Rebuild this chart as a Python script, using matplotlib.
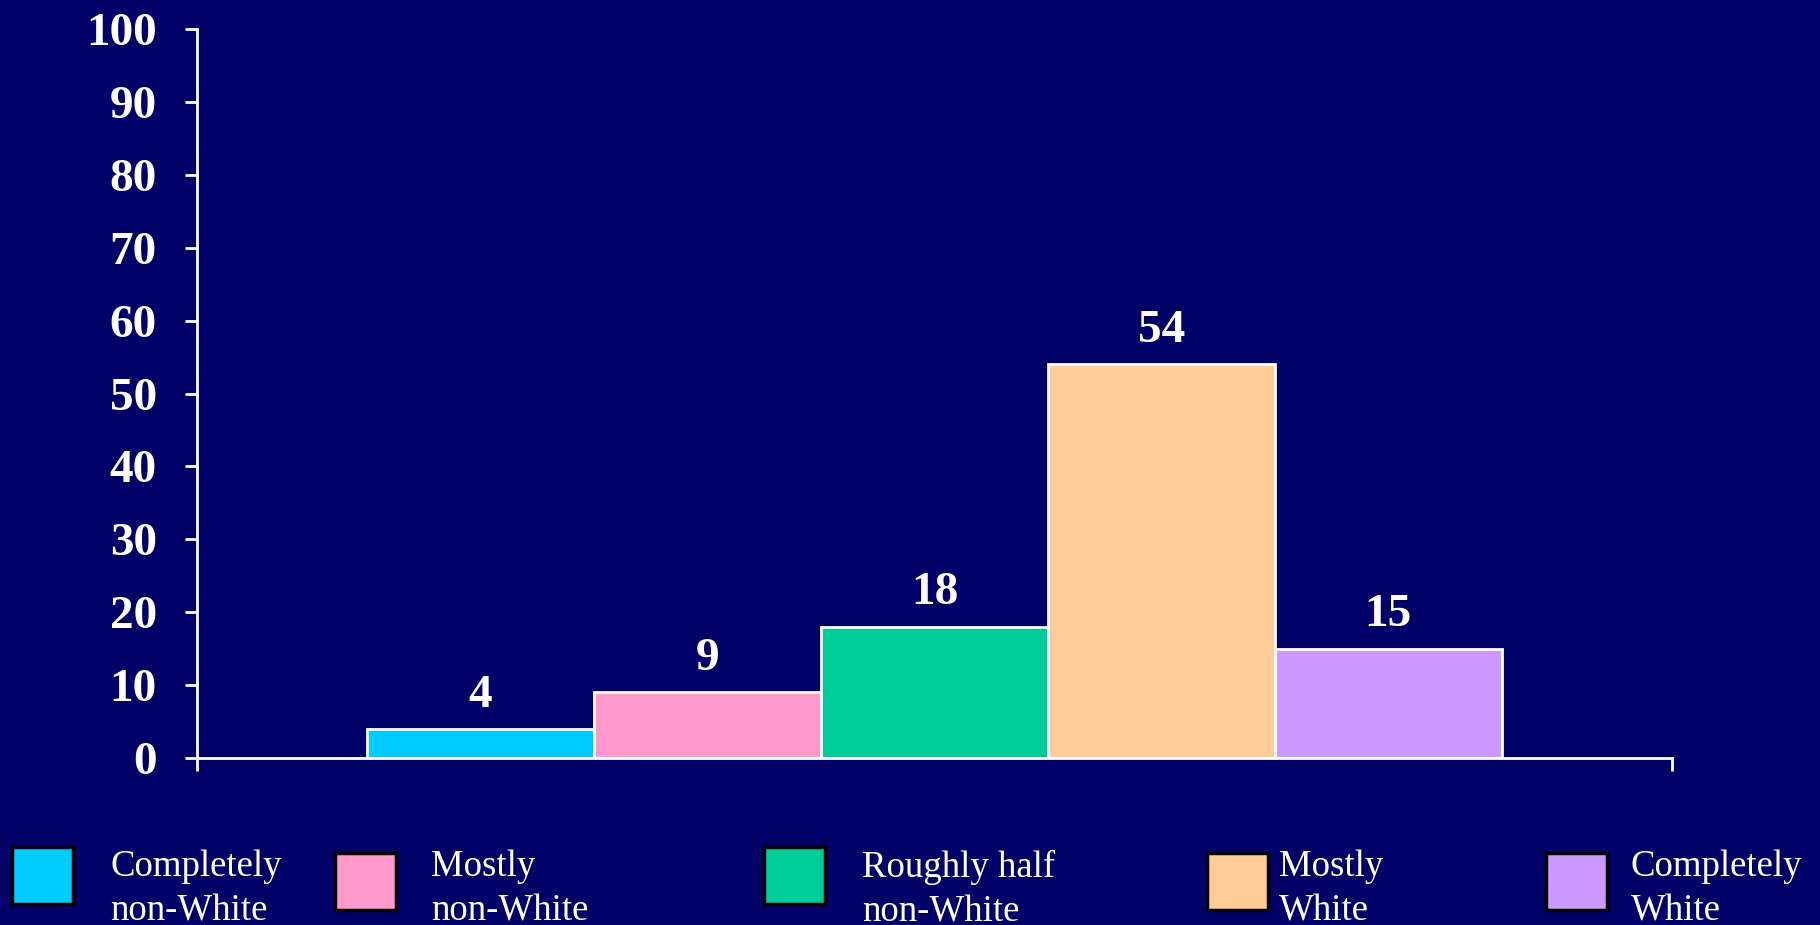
import matplotlib.pyplot as plt
from matplotlib.patches import Rectangle

categories = ["Completely\nnon-White", "Mostly\nnon-White", "Roughly half\nnon-White",
              "Mostly\nWhite", "Completely\nWhite"]
values = [4, 9, 18, 54, 15]
colors = ["#00CCFF", "#FF99CC", "#00CC99", "#FFCC99", "#CC99FF"]
yticks = list(range(0, 101, 10))

bg = "#000066"
serif = ["Liberation Serif", "DejaVu Serif"]

fig = plt.figure(figsize=(18.2, 9.25), dpi=100, facecolor=bg)
ax = fig.add_axes([0.1082, 0.1805, 0.8105, 0.7881], facecolor=bg)

x = list(range(len(values)))
bars = ax.bar(x, values, width=1.0, color=colors, edgecolor="white", linewidth=2)

for xi, v in zip(x, values):
    ax.annotate(str(v), (xi, v), xytext=(0, 24), textcoords="offset points",
                ha="center", va="center", color="white", fontsize=34,
                fontweight="bold", family=serif)

ax.set_xlim(-1.25, 5.25)
ax.set_ylim(0, 100)
ax.set_yticks(yticks)
ax.set_yticklabels([str(t) for t in yticks], fontsize=34, fontweight="bold",
                   family=serif, color="white")
ax.set_xticks([-1.25, 5.25])
ax.set_xticklabels([])
ax.tick_params(axis="y", direction="out", length=9, width=2, color="white", pad=20)
ax.tick_params(axis="x", direction="out", length=9, width=2, color="white")
for s in ["top", "right"]:
    ax.spines[s].set_visible(False)
for s in ["left", "bottom"]:
    ax.spines[s].set_color("white")
    ax.spines[s].set_linewidth(2)
ax.spines["left"].set_bounds(0, 100)

# legend drawn by hand so the entries sit where the original puts them
sw_x = [12, 335, 764, 1207, 1546]
sw_y = [847, 853, 847, 853, 853]
tx_x = [110, 431, 862, 1279, 1631]
W, H = 1820, 925
for i, lab in enumerate(categories):
    r = Rectangle((sw_x[i] / W, 1 - (sw_y[i] + 57) / H), 61 / W, 57 / H,
                  transform=fig.transFigure, facecolor=colors[i],
                  edgecolor="black", linewidth=2.5)
    fig.add_artist(r)
    fig.text(tx_x[i] / W, 1 - 850 / H, lab, ha="left", va="top", color="white",
             fontsize=26.5, family=serif, linespacing=1.36)

fig.savefig("out.png", dpi=100, facecolor=bg)
